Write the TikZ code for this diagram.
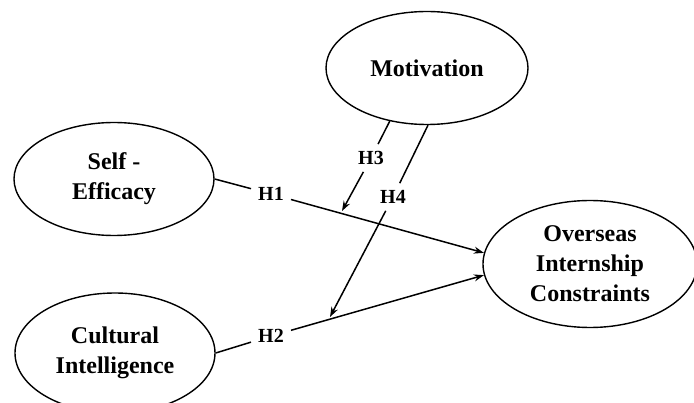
\documentclass[tikz,border=0pt]{standalone}
\usepackage{fontspec}
\setmainfont{Liberation Serif}
\usetikzlibrary{shapes.geometric,arrows.meta}
\begin{document}
\begin{tikzpicture}[x=1pt,y=-1pt,
  latent/.style={ellipse,draw,line width=1.4pt,inner sep=0pt,align=center,font=\fontsize{24}{30}\selectfont\bfseries},
  hyp/.style={inner sep=7pt,font=\fontsize{20}{24}\selectfont\bfseries},
  conn/.style={line width=1.5pt},
  arr/.style={conn,-{Stealth[length=10pt,width=7pt]}}]
\clip (0,0) rectangle (694,403);
\fill[white] (0,0) rectangle (694,403);
\node[latent,minimum width=202pt,minimum height=113pt] (mot) at (427,68) {Motivation};
\node[latent,minimum width=200pt,minimum height=113pt] (se) at (114,179) {Self -\\Efficacy};
\node[latent,minimum width=200pt,minimum height=120pt] (ci) at (115,353) {Cultural\\Intelligence};
\node[latent,minimum width=214pt,minimum height=127pt] (ose) at (590,264) {Overseas\\Internship\\Constraints};
\node[hyp] (h1) at (271,194) {H1};
\node[hyp] (h2) at (271,336) {H2};
\node[hyp] (h3) at (371,158) {H3};
\node[hyp] (h4) at (393,197) {H4};
\coordinate (h3t) at (342,211);
\coordinate (h4t) at (330,317);
\draw[conn] (se.east) -- (h1);
\draw[arr] (h1) -- (ose.174);
\draw[conn] (ci.east) -- (h2);
\draw[arr] (h2) -- (ose.186);
\draw[conn] (mot.235) -- (h3);
\draw[arr] (h3) -- (h3t);
\draw[conn] (mot.271) -- (h4);
\draw[arr] (h4) -- (h4t);
\end{tikzpicture}
\end{document}
